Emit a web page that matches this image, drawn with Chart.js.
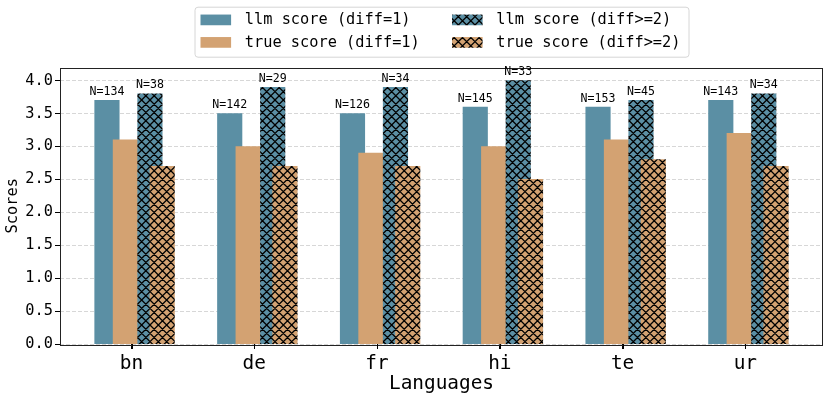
<!DOCTYPE html>
<html><head><meta charset="utf-8">
<script src="https://cdn.jsdelivr.net/npm/chart.js@4.4.1/dist/chart.umd.min.js"></script>
<style>html,body{margin:0;padding:0;background:#fff}</style>
</head><body>
<canvas id="c" width="830" height="400" style="width:830px;height:400px;display:block"></canvas>
<script>
// ---- data ----
const languages = ['bn', 'de', 'fr', 'hi', 'te', 'ur'];
const llmScoreDiff1 = [3.7, 3.5, 3.5, 3.6, 3.6, 3.7];
const trueScoreDiff1 = [3.1, 3.0, 2.9, 3.0, 3.1, 3.2];
const llmScoreDiff2 = [3.8, 3.9, 3.9, 4.0, 3.7, 3.8];
const trueScoreDiff2 = [2.7, 2.7, 2.7, 2.5, 2.8, 2.7];
const countDiff1 = [134, 142, 126, 145, 153, 143];
const countDiff2 = [38, 29, 34, 33, 45, 34];
const yTickValues = [0, 0.5, 1, 1.5, 2, 2.5, 3, 3.5, 4];
const seriesNames = ['llm score (diff=1)', 'true score (diff=1)', 'llm score (diff>=2)', 'true score (diff>=2)'];

// ---- styles / layout ----
const MONO = "'DejaVu Sans Mono', monospace";
const BLUE = 'rgb(91,143,164)';
const TAN = 'rgb(211,162,114)';
const groupOffsets = [-0.2, -0.05, 0.15, 0.25];

function hatch(bg) {
  const s = 25, step = s / 3;
  const t = document.createElement('canvas');
  t.width = s; t.height = s;
  const g = t.getContext('2d');
  g.fillStyle = bg; g.fillRect(0, 0, s, s);
  g.strokeStyle = '#000'; g.lineWidth = 1.3;
  g.beginPath();
  for (let c = -2 * s; c <= 2 * s; c += step) {
    g.moveTo(c, 0); g.lineTo(c - s, s);
    g.moveTo(c, 0); g.lineTo(c + s, s);
  }
  g.stroke();
  return g.createPattern(t, 'repeat');
}

const fills = [BLUE, TAN, hatch(BLUE), hatch(TAN)];
const seriesValues = [llmScoreDiff1, trueScoreDiff1, llmScoreDiff2, trueScoreDiff2];

const datasets = seriesValues.map((vals, k) => ({
  label: seriesNames[k],
  data: vals.map((v, i) => ({ x: i + groupOffsets[k], y: v })),
  backgroundColor: fills[k],
  borderWidth: 0,
  barThickness: 24.5,
  grouped: false,
  order: 4 - k
}));

const countLabels = { 0: countDiff1, 2: countDiff2 };

const labelPlugin = {
  id: 'nlabels',
  afterDatasetsDraw(chart) {
    const ctx = chart.ctx;
    const ca = chart.chartArea;
    const xs = chart.scales.x;
    ctx.save();
    // frame
    ctx.strokeStyle = '#222';
    ctx.lineWidth = 1;
    ctx.strokeRect(Math.round(ca.left) + 0.5, Math.round(ca.top) + 0.5,
      Math.round(ca.right - ca.left) - 1, Math.round(ca.bottom - ca.top));
    // x tick marks
    ctx.strokeStyle = '#000';
    ctx.beginPath();
    languages.forEach((_, i) => {
      const px = Math.round(xs.getPixelForValue(i)) + 0.5;
      ctx.moveTo(px, ca.bottom);
      ctx.lineTo(px, ca.bottom + 5);
    });
    ctx.stroke();
    // N labels
    ctx.font = '11.6px ' + MONO;
    ctx.fillStyle = '#000';
    ctx.textAlign = 'center';
    ctx.textBaseline = 'alphabetic';
    Object.keys(countLabels).forEach(k => {
      const meta = chart.getDatasetMeta(+k);
      meta.data.forEach((bar, i) => {
        ctx.fillText('N=' + countLabels[k][i], bar.x, bar.y - 5.5);
      });
    });
    ctx.restore();
  },
  afterDraw(chart) {
    const ctx = chart.ctx;
    const ca = chart.chartArea;
    const w = 494, h = 50;
    const cx = (ca.left + ca.right) / 2;
    const x0 = cx - w / 2, y0 = 6.7;
    ctx.save();
    ctx.beginPath();
    ctx.roundRect(x0 + 0.5, y0 + 0.5, w, h, 3);
    ctx.fillStyle = 'rgba(255,255,255,0.85)';
    ctx.fill();
    ctx.strokeStyle = '#d6d6d6';
    ctx.lineWidth = 1;
    ctx.stroke();
    ctx.font = '15.3px ' + MONO;
    ctx.textBaseline = 'middle';
    ctx.textAlign = 'left';
    const cols = [x0 + 6, x0 + 257.5];
    const rows = [y0 + 13.2, y0 + 35.7];
    [0, 1, 2, 3].forEach(k => {
      const col = k < 2 ? 0 : 1;
      const row = k % 2;
      const sx = cols[col], sy = rows[row];
      ctx.fillStyle = fills[k];
      ctx.fillRect(sx, sy - 5.35, 30.6, 10.7);
      ctx.fillStyle = '#000';
      ctx.fillText(seriesNames[k], sx + 44.3, sy + 0.5);
    });
    ctx.restore();
  }
};

new Chart(document.getElementById('c'), {
  type: 'bar',
  data: { datasets },
  plugins: [labelPlugin],
  options: {
    responsive: false,
    animation: false,
    devicePixelRatio: 1,
    layout: { padding: { top: 67.5, right: 7, left: 0, bottom: 0 } },
    plugins: { legend: { display: false }, tooltip: { enabled: false } },
    scales: {
      x: {
        type: 'linear',
        min: -0.5825,
        max: 5.6325,
        offset: false,
        afterBuildTicks(scale) { scale.ticks = languages.map((_, i) => ({ value: i })); },
        afterFit(scale) { scale.height = 56; },
        ticks: {
          callback: (v) => languages[Math.round(v)],
          font: { family: MONO, size: 19.4, lineHeight: 1.2 },
          color: '#000',
          padding: 3,
          maxRotation: 0,
          autoSkip: false
        },
        grid: { offset: false, drawOnChartArea: false, tickLength: 5, tickColor: '#000', tickWidth: 1 },
        border: { display: false },
        title: {
          display: true, text: 'Languages', color: '#000',
          font: { family: MONO, size: 19.4, lineHeight: 1.2 },
          padding: { top: 0, bottom: 4 }
        }
      },
      y: {
        min: 0,
        max: 4.2,
        afterBuildTicks(scale) { scale.ticks = yTickValues.map(v => ({ value: v })); },
        afterFit(scale) { scale.width = 60; },
        ticks: {
          callback: (v) => Number(v).toFixed(1),
          font: { family: MONO, size: 15.3, lineHeight: 1.2 },
          color: '#000',
          padding: 2
        },
        grid: {
          color: 'rgba(170,170,170,0.6)', lineWidth: 0.8,
          tickLength: 5, tickColor: '#000', tickWidth: 1, tickBorderDash: [],
          borderDash: [4, 2]
        },
        border: { display: false, dash: [4, 2] },
        title: {
          display: true, text: 'Scores', color: '#000',
          font: { family: MONO, size: 15.3, lineHeight: 1.2 },
          padding: { top: 3.5, bottom: 0 }
        }
      }
    }
  }
});
</script>
</body></html>
